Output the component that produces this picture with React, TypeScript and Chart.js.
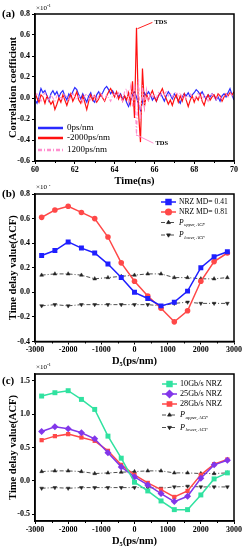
import React, { useEffect, useRef } from "react";
import { Chart, registerables } from "chart.js";
import { drawPoint } from "chart.js/helpers";

Chart.register(...registerables);

const SERIF = '"Liberation Serif", "Times New Roman", "DejaVu Serif", serif';

// ---------- Panel (a) data ----------
const TIME_START = 60;
const TIME_STEP = 0.1;
const blue0ps = [
  -0.02, -0.05, 0.02, 0.09, 0.05, 0.07, 0.02, -0.03, 0.04, 0.07,
  0.03, 0.06, 0.01, 0.05, 0.07, 0.02, -0.02, 0.04, 0.01, 0.06,
  0.1, 0.08, 0.03, -0.01, 0.04, 0.0, -0.04, 0.02, 0.05, -0.02,
  -0.04, 0.03, 0.06, 0.02, 0.05, 0.09, 0.11, 0.08, 0.04, 0.07,
  0.03, 0.05, 0.01, 0.04, -0.01, 0.02, -0.04, -0.08, -0.03, 0.03,
  0.06, 0.01, -0.06, -0.12, -0.04, 0.05, 0.02, 0.06, 0.03, -0.02,
  0.01, -0.03, 0.02, 0.05, 0.01, -0.03, 0.02, 0.06, 0.03, -0.01,
  0.04, 0.01, -0.02, -0.05, 0.01, 0.04, 0.02, 0.05, 0.01, 0.03,
  0.05, 0.08, 0.06, 0.03, 0.06, 0.02, -0.01, 0.03, 0.01, 0.04,
  0.02, -0.02, 0.01, -0.03, 0.02, 0.04, 0.01, 0.05, 0.09, 0.03, -0.02,
];
const red2000ps = [
  0.05, 0.0, -0.04, 0.03, 0.01, -0.05, 0.02, -0.02, -0.06, -0.03,
  -0.11, -0.06, 0.0, -0.04, 0.03, -0.02, -0.07, -0.01, 0.04, -0.03,
  0.01, 0.06, -0.02, -0.05, 0.02, -0.04, -0.11, -0.03, 0.03, -0.02,
  0.02, -0.04, -0.01, 0.04, 0.0, -0.03, 0.02, 0.06, 0.09, 0.05,
  0.01, 0.06, -0.01, 0.03, -0.03, 0.02, -0.02, 0.05, -0.05, 0.16,
  -0.19, 0.67, -0.13, -0.42, 0.28, -0.08, 0.04, -0.02, 0.03, 0.07,
  0.01, -0.03, 0.02, 0.05, 0.09, 0.03, -0.01, -0.06, -0.02, -0.07,
  -0.01, 0.03, -0.04, 0.02, -0.03, 0.04, -0.02, -0.08, -0.02, 0.02,
  -0.04, 0.01, -0.02, 0.04, -0.03, -0.07, 0.0, 0.03, -0.02, 0.01,
  0.03, -0.01, 0.04, 0.02, -0.03, 0.01, 0.04, 0.02, 0.05, 0.03, 0.06,
];
const pink1200ps = [
  0.02, 0.04, 0.0, -0.03, 0.02, 0.05, 0.01, -0.02, 0.03, 0.0,
  -0.03, 0.02, 0.04, 0.0, -0.02, 0.03, 0.01, -0.03, 0.02, 0.05,
  0.01, -0.02, 0.03, 0.0, -0.04, 0.02, 0.04, 0.0, -0.02, 0.03,
  0.01, -0.03, 0.02, 0.05, 0.01, -0.02, 0.03, 0.0, -0.03, 0.02,
  0.04, 0.0, 0.05, 0.02, -0.03, 0.06, 0.09, -0.04, 0.11, -0.08,
  0.14, -0.36, 0.18, -0.22, 0.12, -0.09, 0.08, -0.04, 0.05, 0.01,
  0.04, 0.0, 0.05, 0.02, 0.06, 0.03, 0.07, 0.02, 0.05, 0.01,
  0.04, 0.06, 0.02, 0.05, 0.0, 0.03, -0.01, 0.02, 0.04, 0.01,
  -0.02, 0.02, 0.05, 0.01, -0.02, 0.03, 0.0, -0.03, 0.02, 0.04,
  0.0, -0.02, 0.03, 0.01, -0.01, 0.02, 0.04, 0.01, 0.05, 0.02, 0.04,
];
const timeTicks = [60, 62, 64, 66, 68, 70];
const timeMinor = [61, 63, 65, 67, 69];
const corrTicks = [-0.6, -0.4, -0.2, 0, 0.2, 0.4, 0.6, 0.8];

// ---------- Panels (b), (c) data ----------
const dispersion = [-2800, -2400, -2000, -1600, -1200, -800, -400, 0, 400, 800, 1200, 1600, 2000, 2400, 2800];
const nrzMd041 = [0.3, 0.34, 0.41, 0.36, 0.32, 0.23, 0.12, 0.0, -0.05, -0.11, -0.08, 0.01, 0.2, 0.29, 0.33];
const nrzMd081 = [0.61, 0.67, 0.7, 0.65, 0.6, 0.45, 0.24, 0.09, -0.03, -0.13, -0.24, -0.15, 0.09, 0.25, 0.32];
const pUpper = [0.14, 0.15, 0.15, 0.14, 0.11, 0.12, 0.13, 0.14, 0.15, 0.15, 0.12, 0.12, 0.11, 0.11, 0.12];
const pLower = [-0.11, -0.1, -0.11, -0.1, -0.1, -0.1, -0.1, -0.1, -0.1, -0.11, -0.09, -0.08, -0.09, -0.09, -0.09];
const nrz10G = [1.27, 1.32, 1.35, 1.22, 1.07, 0.67, 0.34, -0.02, -0.15, -0.3, -0.43, -0.43, -0.21, 0.03, 0.12];
const nrz25G = [0.74, 0.81, 0.78, 0.72, 0.63, 0.42, 0.21, 0.06, -0.06, -0.19, -0.31, -0.23, 0.04, 0.24, 0.31];
const nrz28G = [0.61, 0.67, 0.7, 0.65, 0.6, 0.45, 0.24, 0.09, -0.03, -0.13, -0.24, -0.15, 0.09, 0.25, 0.32];
const dispTicks = [-3000, -2000, -1000, 0, 1000, 2000, 3000];
const dispMinor = [-2500, -1500, -500, 500, 1500, 2500];
const acfTicksB = [-0.4, -0.2, 0, 0.2, 0.4, 0.6, 0.8];
const acfTicksC = [-0.5, 0, 0.5, 1.0, 1.5];

const timeNs = blue0ps.map((_, i) => +(TIME_START + i * TIME_STEP).toFixed(1));
const pts = (xs: number[], ys: number[]) => ys.map((y, i) => ({ x: xs[i], y }));

// ---------- decoration plugin ----------
const decor = {
  id: "decor",
  afterDraw(chart: any, _args: any, opts: any) {
    const { ctx, chartArea: a, scales } = chart;
    ctx.save();
    ctx.strokeStyle = "#000";
    ctx.lineWidth = 1.5;
    ctx.strokeRect(a.left, a.top, a.right - a.left, a.bottom - a.top);
    ctx.lineWidth = 1;
    (opts.minorX || []).forEach((v: number) => {
      const px = Math.round(scales.x.getPixelForValue(v)) + 0.5;
      ctx.beginPath();
      ctx.moveTo(px, a.bottom);
      ctx.lineTo(px, a.bottom + 2);
      ctx.stroke();
    });
    ctx.fillStyle = "#000";
    ctx.textBaseline = "middle";
    ctx.textAlign = "left";
    ctx.font = `bold 11px ${SERIF}`;
    ctx.fillText(opts.panel, 2, opts.panelY);
    ctx.font = `7px ${SERIF}`;
    ctx.fillText("×10", 36, opts.expY);
    const w = ctx.measureText("×10").width;
    ctx.font = `5px ${SERIF}`;
    ctx.fillText("-1", 36 + w, opts.expY - 2);
    (opts.notes || []).forEach((n: any) => {
      const x1 = scales.x.getPixelForValue(n.from[0]);
      const y1 = scales.y.getPixelForValue(n.from[1]);
      const x2 = scales.x.getPixelForValue(n.to[0]);
      const y2 = scales.y.getPixelForValue(n.to[1]);
      ctx.strokeStyle = n.color;
      ctx.lineWidth = 1;
      ctx.beginPath();
      ctx.moveTo(x1, y1);
      ctx.lineTo(x2, y2);
      ctx.stroke();
      ctx.fillStyle = "#000";
      ctx.font = `bold 6.5px ${SERIF}`;
      ctx.fillText(n.text, x2 + 2, y2);
    });
    const lg = opts.legend;
    if (lg) {
      chart.data.datasets.forEach((ds: any, i: number) => {
        const y = lg.rows[i];
        ctx.save();
        ctx.strokeStyle = ds.borderColor;
        ctx.lineWidth = lg.lineWidth ?? ds.borderWidth;
        if (ds.borderDash) ctx.setLineDash(ds.borderDash);
        ctx.beginPath();
        ctx.moveTo(lg.x, y);
        ctx.lineTo(lg.x + lg.len, y);
        ctx.stroke();
        ctx.setLineDash([]);
        if (ds.pointRadius > 0) {
          ctx.fillStyle = ds.pointBackgroundColor || ds.borderColor;
          ctx.strokeStyle = ds.pointBackgroundColor || ds.borderColor;
          drawPoint(ctx, { pointStyle: ds.pointStyle, radius: ds.pointRadius, rotation: ds.pointRotation || 0, borderWidth: 1 } as any, lg.x + lg.len / 2, y);
        }
        ctx.restore();
        ctx.fillStyle = "#000";
        ctx.textBaseline = "middle";
        ctx.textAlign = "left";
        const label: string = ds.label;
        if (label.includes("|")) {
          const [main, sub] = label.split("|");
          ctx.font = `italic ${lg.font}px ${SERIF}`;
          ctx.fillText(main, lg.textX, y);
          const mw = ctx.measureText(main).width;
          ctx.font = `italic ${lg.font * 0.6}px ${SERIF}`;
          ctx.fillText(sub, lg.textX + mw + 0.5, y + 2.5);
        } else {
          ctx.font = `${lg.font}px ${SERIF}`;
          ctx.fillText(label, lg.textX, y);
        }
      });
    }
    ctx.restore();
  },
};

// ---------- axis builders ----------
function xAxis(min: number, max: number, ticks: number[], title: string, h: number) {
  return {
    type: "linear",
    min,
    max,
    afterBuildTicks: (s: any) => {
      s.ticks = ticks.map((value) => ({ value }));
    },
    afterFit: (s: any) => {
      s.height = h;
      s.paddingLeft = 0;
      s.paddingRight = 0;
    },
    grid: { display: true, drawOnChartArea: false, drawTicks: true, tickLength: 3, color: "#000", lineWidth: 1 },
    border: { display: true, color: "#000", width: 1.5 },
    ticks: {
      color: "#000",
      font: { family: SERIF, size: 8, weight: "bold" },
      padding: 1,
      maxRotation: 0,
      autoSkip: false,
      callback: (v: any) => String(v),
    },
    title: {
      display: true,
      text: title,
      color: "#000",
      font: { family: SERIF, size: 10.5, weight: "bold" },
      padding: { top: 0, bottom: 2 },
    },
  };
}

function yAxis(min: number, max: number, ticks: number[], title: string) {
  return {
    type: "linear",
    min,
    max,
    afterBuildTicks: (s: any) => {
      s.ticks = ticks.map((value) => ({ value }));
    },
    afterFit: (s: any) => {
      s.width = 35;
      s.paddingTop = 0;
      s.paddingBottom = 0;
    },
    grid: { display: true, drawOnChartArea: false, drawTicks: true, tickLength: 3, color: "#000", lineWidth: 1 },
    border: { display: true, color: "#000", width: 1.5 },
    ticks: {
      color: "#000",
      font: { family: SERIF, size: 8, weight: "bold" },
      padding: 2,
      autoSkip: false,
      callback: (v: any) => Number(v).toFixed(1),
    },
    title: {
      display: true,
      text: title,
      color: "#000",
      font: { family: SERIF, size: 10.5, weight: "bold" },
      padding: { top: 6.5, bottom: 0 },
    },
  };
}

const dashDot = [4, 2, 1, 2];

function pLines() {
  return [
    {
      label: "P|upper, ACF",
      data: pts(dispersion, pUpper),
      borderColor: "#222",
      backgroundColor: "#222",
      pointBackgroundColor: "#222",
      borderWidth: 0.8,
      borderDash: dashDot,
      pointStyle: "triangle",
      pointRadius: 2.2,
      pointBorderWidth: 0.5,
    },
    {
      label: "P|lower, ACF",
      data: pts(dispersion, pLower),
      borderColor: "#222",
      backgroundColor: "#222",
      pointBackgroundColor: "#222",
      borderWidth: 0.8,
      borderDash: dashDot,
      pointStyle: "triangle",
      pointRotation: 180,
      pointRadius: 2.2,
      pointBorderWidth: 0.5,
    },
  ];
}

const baseOpts = (padTop: number) => ({
  responsive: false,
  animation: false,
  devicePixelRatio: 1,
  layout: { padding: { top: padTop, right: 12, left: 0, bottom: 0 } },
  elements: { line: { tension: 0 } },
});

function configA(): any {
  return {
    type: "line",
    data: {
      datasets: [
        { label: "0ps/nm", data: pts(timeNs, blue0ps), borderColor: "#2a2aff", borderWidth: 1.2, pointRadius: 0, order: 2 },
        { label: "-2000ps/nm", data: pts(timeNs, red2000ps), borderColor: "#ff1010", borderWidth: 1.2, pointRadius: 0, order: 1 },
        { label: "1200ps/nm", data: pts(timeNs, pink1200ps), borderColor: "#ff8fcf", borderWidth: 1.1, borderDash: dashDot, pointRadius: 0, order: 0 },
      ],
    },
    options: {
      ...baseOpts(14),
      scales: {
        x: xAxis(60, 70, timeTicks, "Time(ns)", 29),
        y: yAxis(-0.6, 0.8, corrTicks, "Correlation coefficient"),
      },
      plugins: {
        legend: { display: false },
        tooltip: { enabled: false },
        decor: {
          panel: "(a)",
          panelY: 14,
          expY: 8,
          minorX: timeMinor,
          notes: [
            { from: [65.15, 0.66], to: [65.9, 0.72], color: "#ff2020", text: "TDS" },
            { from: [65.08, -0.35], to: [65.95, -0.43], color: "#ff8fcf", text: "TDS" },
          ],
          legend: { x: 38, len: 25, textX: 67, rows: [128, 138, 150], font: 9, lineWidth: 2.5 },
        },
      },
    },
    plugins: [decor],
  };
}

function configB(): any {
  return {
    type: "line",
    data: {
      datasets: [
        {
          label: "NRZ MD= 0.41",
          data: pts(dispersion, nrzMd041),
          borderColor: "#1f1fff",
          backgroundColor: "#1f1fff",
          pointBackgroundColor: "#1f1fff",
          borderWidth: 1.5,
          pointStyle: "rect",
          pointRadius: 3.5,
          pointBorderWidth: 0,
        },
        {
          label: "NRZ MD= 0.81",
          data: pts(dispersion, nrzMd081),
          borderColor: "#ff4848",
          backgroundColor: "#ff4848",
          pointBackgroundColor: "#ff4848",
          borderWidth: 1.5,
          pointStyle: "circle",
          pointRadius: 2.8,
          pointBorderWidth: 0,
        },
        ...pLines(),
      ],
    },
    options: {
      ...baseOpts(9),
      scales: {
        x: xAxis(-3000, 3000, dispTicks, "D₅(ps/nm)", 28.5),
        y: yAxis(-0.4, 0.8, acfTicksB, "Time delay value(ACF)"),
      },
      plugins: {
        legend: { display: false },
        tooltip: { enabled: false },
        decor: {
          panel: "(b)",
          panelY: 9,
          expY: 2,
          minorX: dispMinor,
          legend: { x: 161, len: 15, textX: 179, rows: [17, 27, 37.5, 50], font: 7.6 },
        },
      },
    },
    plugins: [decor],
  };
}

function configC(): any {
  return {
    type: "line",
    data: {
      datasets: [
        {
          label: "10Gb/s NRZ",
          data: pts(dispersion, nrz10G),
          borderColor: "#30e2a0",
          backgroundColor: "#30e2a0",
          pointBackgroundColor: "#30e2a0",
          borderWidth: 1.5,
          pointStyle: "rect",
          pointRadius: 3.5,
          pointBorderWidth: 0,
        },
        {
          label: "25Gb/s NRZ",
          data: pts(dispersion, nrz25G),
          borderColor: "#8236ea",
          backgroundColor: "#8236ea",
          pointBackgroundColor: "#8236ea",
          borderWidth: 1.5,
          pointStyle: "rectRot",
          pointRadius: 3.5,
          pointBorderWidth: 0,
        },
        {
          label: "28Gb/s NRZ",
          data: pts(dispersion, nrz28G),
          borderColor: "#ff4848",
          backgroundColor: "#ff4848",
          pointBackgroundColor: "#ff4848",
          borderWidth: 1.5,
          pointStyle: "rect",
          pointRadius: 3,
          pointBorderWidth: 0,
        },
        ...pLines(),
      ],
    },
    options: {
      ...baseOpts(12),
      scales: {
        x: xAxis(-3000, 3000, dispTicks, "D₅(ps/nm)", 29),
        y: yAxis(-0.6, 1.6, acfTicksC, "Time delay value(ACF)"),
      },
      plugins: {
        legend: { display: false },
        tooltip: { enabled: false },
        decor: {
          panel: "(c)",
          panelY: 19,
          expY: 5,
          minorX: dispMinor,
          legend: { x: 162, len: 15, textX: 180, rows: [22, 32, 42, 53, 65.5], font: 8.2 },
        },
      },
    },
    plugins: [decor],
  };
}

function Panel({ top, height, make }: { top: number; height: number; make: () => any }) {
  const ref = useRef<HTMLCanvasElement>(null);
  useEffect(() => {
    const chart = new Chart(ref.current as HTMLCanvasElement, make());
    return () => chart.destroy();
  }, []);
  return (
    <div style={{ position: "absolute", left: 0, top, width: 246, height }}>
      <canvas ref={ref} width={246} height={height} style={{ display: "block", width: 246, height }} />
    </div>
  );
}

export default function App() {
  return (
    <div style={{ position: "absolute", left: 0, top: 0, width: 246, height: 550, background: "#fff" }}>
      <Panel top={0} height={190} make={configA} />
      <Panel top={185} height={185} make={configB} />
      <Panel top={362} height={188} make={configC} />
    </div>
  );
}
